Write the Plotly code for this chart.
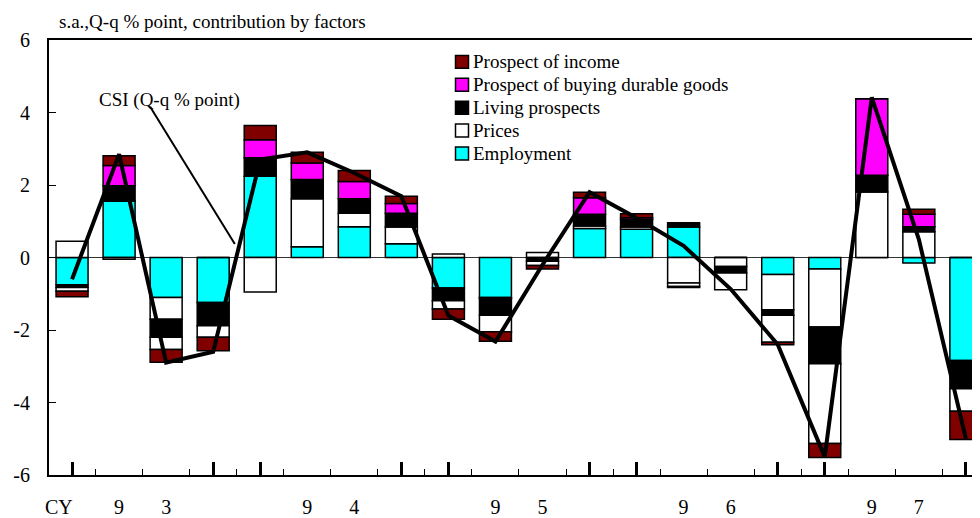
import plotly.graph_objs as go

# Quarterly contributions to the CSI change (CY1993 Q1 .. CY1997 Q4)
years = ["93", "94", "95", "96", "97"]
employment = [-0.75, 1.55, -1.10, -1.24, 2.24, 0.30, 0.85, 0.38, -0.84, -1.10,
              0.00, 0.80, 0.78, 0.84, 0.00, -0.47, -0.32, 0.00, -0.15, -2.84]
prices = [0.45, -0.05, -0.60, 0.00, -0.95, 1.32, 0.37, 0.46, 0.10, -0.03,
          0.14, 0.07, 0.06, -0.70, -0.25, -0.97, -1.60, 1.81, 0.71, 0.00]
living = [-0.08, 0.43, -0.50, -0.64, 0.51, 0.53, 0.40, 0.38, -0.35, -0.46,
          -0.10, 0.32, 0.21, 0.12, -0.18, -0.15, -1.01, 0.46, 0.14, -0.78]
durable = [-0.10, 0.56, -0.34, -0.32, 0.50, 0.46, 0.48, 0.27, -0.23, -0.46,
           -0.12, 0.46, 0.05, -0.10, -0.46, -0.75, -2.20, 2.11, 0.34, -0.62]
income = [-0.15, 0.27, -0.35, -0.37, 0.39, 0.29, 0.30, 0.20, -0.28, -0.26,
          -0.10, 0.15, 0.11, -0.03, 0.00, -0.07, -0.39, 0.00, 0.14, -0.78]
csi = [-0.6, 2.85, -2.9, -2.6, 2.7, 2.9, 2.33, 1.69, -1.6, -2.32,
       -0.2, 1.8, 1.09, 0.32, -0.87, -2.4, -5.5, 4.42, 0.5, -5.0]

FONT = "Liberation Serif, Times New Roman, serif"
DARKRED = "#800000"
MAGENTA = "#FF00FF"
CYAN = "#00FFFF"

# figure size / plot box in pixels (page body adds an 8px offset)
W, H = 972, 510
ML, MT, MR, MB = 41, 32, 0, 41
PW, PH = W - ML - MR, H - MT - MB


def px_x(v):
    return (v - ML) / PW


def px_y(v):
    return 1 - (v - MT) / PH


x = list(range(1, len(csi) + 1))

fig = go.Figure()


def _add_bar(values, color):
    fig.add_trace(
        go.Bar(
            x=x,
            y=values,
            width=0.68,
            marker=dict(color=color, line=dict(color="black", width=1.5)),
            showlegend=False,
            hoverinfo="skip",
        )
    )


_add_bar(employment, CYAN)
_add_bar(prices, "white")
_add_bar(living, "black")
# negative durable-goods contributions are drawn inverted (white)
_add_bar(durable, [MAGENTA if v >= 0 else "white" for v in durable])
_add_bar(income, DARKRED)

fig.add_trace(
    go.Scatter(
        x=x,
        y=csi,
        mode="lines",
        line=dict(color="black", width=4),
        showlegend=False,
        hoverinfo="skip",
    )
)

# ticks at the first and last quarter of each year
year_ticks = []
label_pos = [0.72]
label_txt = ["CY"]
for i, yr in enumerate(years):
    year_ticks += [1 + 4 * i, 4 + 4 * i]
    label_pos += [2 + 4 * i, 3 + 4 * i]
    label_txt += [yr[0], yr[1]]

# invisible trace so the label axis gets drawn
fig.add_trace(go.Scatter(x=[None], y=[None], xaxis="x2", showlegend=False))

xrange = [0.51, 20.3]

# legend drawn as boxes + labels (top to bottom)
legend_items = [
    ("Prospect of income", DARKRED),
    ("Prospect of buying durable goods", MAGENTA),
    ("Living prospects", "black"),
    ("Prices", "white"),
    ("Employment", CYAN),
]
shapes = [
    dict(
        type="line", xref="x", yref="y",
        x0=2.66, y0=4.16, x1=4.46, y1=0.37,
        line=dict(color="black", width=2),
    )
]
annotations = [
    dict(
        text="s.a.,Q-q % point, contribution by factors",
        xref="paper", yref="paper",
        x=0.0086, y=1.0435,
        xanchor="left", yanchor="middle",
        showarrow=False,
        font=dict(family=FONT, size=19, color="black"),
    ),
    dict(
        text="CSI (Q-q % point)",
        xref="x", yref="y",
        x=3.08, y=4.35,
        xanchor="center", yanchor="middle",
        showarrow=False,
        font=dict(family=FONT, size=19, color="black"),
    ),
]
for k, (name, color) in enumerate(legend_items):
    cy = 54 + 23 * k
    shapes.append(
        dict(
            type="rect", xref="paper", yref="paper",
            x0=px_x(447.5), x1=px_x(460.5),
            y0=px_y(cy - 6.5), y1=px_y(cy + 6.5),
            fillcolor=color,
            line=dict(color="black", width=1.5),
        )
    )
    annotations.append(
        dict(
            text=name,
            xref="paper", yref="paper",
            x=px_x(463), y=px_y(cy),
            xanchor="left", yanchor="middle",
            showarrow=False,
            font=dict(family=FONT, size=19, color="black"),
        )
    )

fig.update_layout(
    width=W,
    height=H,
    barmode="relative",
    plot_bgcolor="white",
    paper_bgcolor="white",
    font=dict(family=FONT, color="black"),
    margin=dict(l=ML, r=MR, t=MT, b=MB),
    showlegend=False,
    xaxis=dict(
        range=xrange,
        showgrid=False,
        zeroline=False,
        showline=True,
        linecolor="black",
        linewidth=2,
        mirror=True,
        tickmode="array",
        tickvals=year_ticks,
        ticks="inside",
        ticklen=13,
        tickwidth=3,
        tickcolor="black",
        showticklabels=False,
        minor=dict(
            tick0=0.5, dtick=1, ticks="inside", ticklen=6, tickwidth=1,
            tickcolor="black", showgrid=False,
        ),
    ),
    xaxis2=dict(
        range=xrange,
        overlaying="x",
        anchor="y",
        side="bottom",
        showgrid=False,
        zeroline=False,
        showline=False,
        tickmode="array",
        tickvals=label_pos,
        ticktext=label_txt,
        ticks="",
        ticklabelstandoff=18,
        tickfont=dict(family=FONT, size=20, color="black"),
    ),
    yaxis=dict(
        range=[-6, 6],
        tickmode="array",
        tickvals=[-6, -4, -2, 0, 2, 4, 6],
        ticktext=["-6", "-4", "-2", "0", "2", "4", "6"],
        ticks="inside",
        ticklen=7,
        tickwidth=1,
        tickcolor="black",
        showgrid=False,
        showline=True,
        linecolor="black",
        linewidth=2,
        zeroline=True,
        zerolinecolor="#333333",
        zerolinewidth=1,
        tickfont=dict(family=FONT, size=20, color="black"),
        ticklabelstandoff=13,
    ),
    shapes=shapes,
    annotations=annotations,
)

fig.write_html("out.html")
